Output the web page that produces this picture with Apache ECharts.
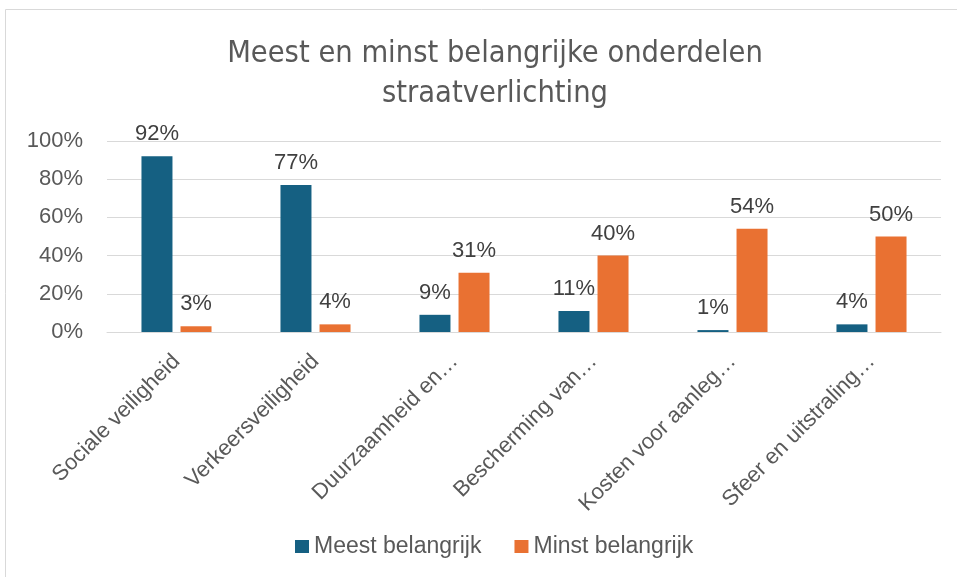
<!DOCTYPE html>
<html>
<head>
<meta charset="utf-8">
<script src="https://cdn.jsdelivr.net/npm/echarts@6/dist/echarts.min.js"></script>
<style>
html, body { margin: 0; padding: 0; background: #fff; }
#main { width: 957px; height: 577px; }
</style>
</head>
<body>
<div id="main"></div>
<script>
// categorieën en waarden
var categories = ['Sociale veiligheid', 'Verkeersveiligheid', 'Duurzaamheid en…',
    'Bescherming van…', 'Kosten voor aanleg…', 'Sfeer en uitstraling…'];
var meest = [92, 77, 9, 11, 1, 4];
var minst = [3, 4, 31, 40, 54, 50];
var yTicks = [0, 20, 40, 60, 80, 100];

var myChart = echarts.init(document.getElementById('main'));

var labelStyle = {
    show: true,
    position: 'top',
    distance: 11,
    formatter: '{c}%',
    color: '#404040',
    fontFamily: 'Liberation Sans',
    fontSize: 22
};

option = {
    animation: false,
    graphic: [{
        type: 'rect',
        shape: { x: 5.5, y: 9.5, width: 1000, height: 600 },
        style: { fill: 'none', stroke: '#d9d9d9', lineWidth: 1 }
    }],
    title: {
        text: 'Meest en minst belangrijke onderdelen\nstraatverlichting',
        left: 490,
        top: 29,
        textAlign: 'center',
        textStyle: {
            color: '#595959',
            fontFamily: 'DejaVu Sans Condensed',
            fontWeight: 'normal',
            fontSize: 30.5,
            lineHeight: 40
        }
    },
    legend: {
        bottom: 14,
        left: 290,
        itemWidth: 14,
        itemHeight: 13,
        itemGap: 33,
        icon: 'rect',
        textStyle: {
            color: '#595959',
            fontFamily: 'Liberation Sans',
            fontSize: 23
        },
        data: ['Meest belangrijk', 'Minst belangrijk']
    },
    grid: {
        left: 107,
        right: 16,
        top: 141,
        bottom: 245
    },
    xAxis: {
        type: 'category',
        data: categories,
        axisLine: { lineStyle: { color: '#d9d9d9', width: 1 } },
        axisTick: { show: false },
        axisLabel: {
            rotate: 45,
            interval: 0,
            margin: 26,
            color: '#595959',
            fontFamily: 'Liberation Sans',
            fontSize: 22
        }
    },
    yAxis: {
        type: 'value',
        min: 0,
        max: 100,
        interval: 20,
        axisLine: { show: false },
        axisTick: { show: false },
        splitLine: { lineStyle: { color: '#d9d9d9', width: 1 } },
        axisLabel: {
            formatter: '{value}%',
            color: '#595959',
            fontFamily: 'Liberation Sans',
            fontSize: 22,
            margin: 24
        }
    },
    series: [{
        name: 'Meest belangrijk',
        type: 'bar',
        barWidth: 31,
        barGap: '26%',
        itemStyle: { color: '#156082' },
        label: labelStyle,
        data: meest
    }, {
        name: 'Minst belangrijk',
        type: 'bar',
        barWidth: 31,
        barGap: '26%',
        itemStyle: { color: '#e97132' },
        label: labelStyle,
        data: minst
    }]
};

myChart.setOption(option);
</script>
</body>
</html>
